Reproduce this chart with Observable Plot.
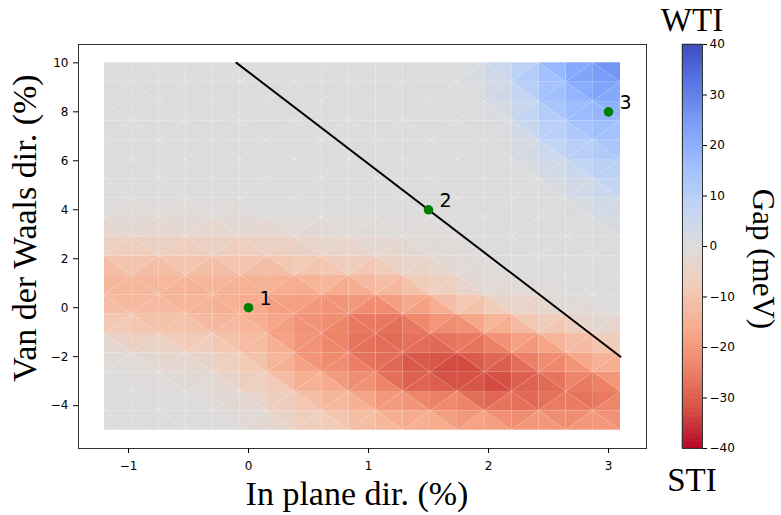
<!DOCTYPE html>
<html><head><meta charset="utf-8">
<script src="https://cdn.jsdelivr.net/npm/d3@7"></script>
<script src="https://cdn.jsdelivr.net/npm/@observablehq/plot@0.6"></script>
<style>
body{margin:0;background:#fff;}
#wrap{position:relative;width:781px;height:515px;overflow:hidden;background:#fff;}
#wrap svg{position:absolute;top:0;}
</style></head><body><div id="wrap"></div>
<script>
// Grid nodes (in-plane strain %, van der Waals strain %)
const xNodes = [-1.2, -0.974, -0.747, -0.521, -0.295, -0.068, 0.158, 0.384, 0.611, 0.837, 1.063, 1.289, 1.516, 1.742, 1.968, 2.195, 2.421, 2.647, 2.874, 3.1];
const yNodes = [-5, -4.211, -3.421, -2.632, -1.842, -1.053, -0.263, 0.526, 1.316, 2.105, 2.895, 3.684, 4.474, 5.263, 6.053, 6.842, 7.632, 8.421, 9.211, 10];
// Gap (meV) at nodes, rows from top (y=10) to bottom (y=-5)
const gapRows = [
 [0,0,0,0,0,0,0,0,0,0,0,0,0,1,3,7,14,20,25,28],
 [0,0,0,0,0,0,0,0,0,0,0,0,0,0,2,6,13,19,23,25],
 [0,0,0,0,0,0,0,0,0,0,0,0,0,0,1,4,11,16,20,20],
 [0,0,0,0,0,0,0,0,0,0,0,0,0,0,0,2,9,13,17,17],
 [0,0,0,0,0,0,0,0,0,0,0,0,0,0,0,1,6,10,13,14],
 [0,0,0,0,0,0,0,0,0,0,0,0,0,0,0,0,3,6,10,12],
 [0,0,0,0,0,0,0,0,0,0,0,0,0,0,0,0,1,3,6,9],
 [0,0,0,0,0,0,0,0,0,0,0,0,0,0,0,0,0,1,3,6],
 [-1,-1,-1,-1,-1,-1,0,0,0,0,0,0,0,0,0,0,0,0,1,3],
 [-4,-4,-4,-4,-4,-4,-4,-4,-2,-2,-1,-1,-1,0,0,0,0,0,0,1],
 [-8,-8,-8,-8,-8,-8,-8,-6,-5,-5,-5,-3,-2,-1,0,0,0,0,0,0],
 [-13,-13,-13,-13,-13,-13,-13,-13,-11,-11,-10,-7,-5,-2,-1,0,0,0,0,0],
 [-13,-13,-13,-15,-15,-15,-17,-17,-18,-19,-17,-15,-10,-6,-3,-2,-1,0,0,0],
 [-9,-12,-12,-12,-15,-15,-17,-21,-21,-24,-25,-25,-20,-17,-12,-8,-5,-3,-1,0],
 [-5,-8,-8,-10,-10,-12,-14,-21,-21,-26,-28,-28,-25,-25,-22,-17,-13,-10,-6,-4],
 [-1,-2,-4,-4,-6,-10,-12,-19,-23,-26,-27,-28,-30,-30,-27,-25,-22,-18,-13,-10],
 [0,0,-1,-2,-3,-6,-9,-16,-19,-22,-27,-30,-34,-34,-34,-31,-27,-24,-20,-17],
 [0,0,0,0,-1,-4,-5,-11,-13,-17,-20,-25,-28,-28,-32,-32,-29,-28,-28,-25],
 [0,0,0,0,0,-1,-3,-7,-9,-12,-15,-18,-18,-22,-22,-25,-24,-24,-24,-22],
 [0,0,0,0,0,0,-2,-4,-6,-8,-11,-13,-14,-16,-16,-18,-18,-18,-18,-18]
];
// Phase boundary line
const lineX = [-0.1, 3.1];
const lineY = [10, -2];
// Marked points
const ptX = [0, 1.5, 3];
const ptY = [0, 4, 8];
const ptLabel = ["1", "2", "3"];
// Ticks
const xTicks = [-1, 0, 1, 2, 3];
const yTicks = [-4, -2, 0, 2, 4, 6, 8, 10];
const cbTicks = [-40, -30, -20, -10, 0, 10, 20, 30, 40];
// coolwarm (reversed: positive = blue)
const cDomain = [-40, -32, -24, -16, -8, 0, 8, 16, 24, 32, 40];
const cRange = ["#b40426", "#d65244", "#ee8468", "#f7ac8e", "#f2cbb7", "#dddcdc", "#c0d4f5", "#9ebeff", "#7b9ff9", "#5977e3", "#3b4cc0"];

const color = {type: "linear", domain: cDomain, range: cRange, interpolate: "rgb", clamp: true};
const fmt = d => (d < 0 ? "\u2212" : "") + Math.abs(d);

// Build triangles (flat shading = mean of vertex values)
const grid = gapRows.slice().reverse();
const tris = [];
let id = 0;
for (let j = 0; j < yNodes.length - 1; j++) {
  for (let i = 0; i < xNodes.length - 1; i++) {
    const x0 = xNodes[i], x1 = xNodes[i + 1], y0 = yNodes[j], y1 = yNodes[j + 1];
    const v00 = grid[j][i], v10 = grid[j][i + 1], v01 = grid[j + 1][i], v11 = grid[j + 1][i + 1];
    if ((i + j) % 2 === 0) {
      let v = (v00 + v10 + v01) / 3; id++;
      tris.push({id, x: x0, y1: y0, y2: y1, v}, {id, x: x1, y1: y0, y2: y0, v});
      v = (v10 + v11 + v01) / 3; id++;
      tris.push({id, x: x0, y1: y1, y2: y1, v}, {id, x: x1, y1: y0, y2: y1, v});
    } else {
      let v = (v00 + v10 + v11) / 3; id++;
      tris.push({id, x: x0, y1: y0, y2: y0, v}, {id, x: x1, y1: y0, y2: y1, v});
      v = (v00 + v11 + v01) / 3; id++;
      tris.push({id, x: x0, y1: y0, y2: y1, v}, {id, x: x1, y1: y1, y2: y1, v});
    }
  }
}
const line = lineX.map((x, k) => ({x, y: lineY[k]}));
const pts = ptX.map((x, k) => ({x, y: ptY[k], t: ptLabel[k]}));

const wrap = document.getElementById("wrap");

const main = Plot.plot({
  width: 660, height: 515,
  marginLeft: 78, marginRight: 14, marginTop: 44, marginBottom: 67,
  style: {fontFamily: "DejaVu Sans", fontSize: "12px", background: "transparent"},
  x: {domain: [-1.4167, 3.3167]},
  y: {domain: [-5.75, 10.75]},
  color,
  marks: [
    Plot.areaY(tris, {x: "x", y1: "y1", y2: "y2", z: "id", fill: "v", stroke: "white", strokeOpacity: 0.1, strokeWidth: 0.6}),
    Plot.line(line, {x: "x", y: "y", stroke: "black", strokeWidth: 2}),
    Plot.dot(pts, {x: "x", y: "y", fill: "#008000", r: 4.8}),
    Plot.text(pts, {x: "x", y: "y", text: "t", dx: 11, dy: -9, textAnchor: "start", fontSize: 19, fill: "black"}),
    Plot.frame({stroke: "#333"}),
    Plot.axisX({ticks: xTicks, tickFormat: fmt, tickSize: 5, tickPadding: 8, fontSize: 12, label: null}),
    Plot.axisY({ticks: yTicks, tickFormat: fmt, tickSize: 5, tickPadding: 5, fontSize: 12, label: null})
  ]
});
main.style.left = "0px";
wrap.appendChild(main);

const cbStep = 0.5;
const cbVals = d3.range(-40, 40, cbStep);
const cb = Plot.plot({
  width: 119, height: 515,
  marginLeft: 20, marginRight: 79, marginTop: 44, marginBottom: 67,
  style: {fontFamily: "DejaVu Sans", fontSize: "12px", background: "transparent"},
  x: {domain: [0, 1], axis: null},
  y: {domain: [-40, 40]},
  color,
  marks: [
    Plot.rect(cbVals, {x1: 0, x2: 1, y1: d => d, y2: d => d + cbStep, fill: d => d + cbStep / 2, stroke: d => d + cbStep / 2, strokeWidth: 0.6}),
    Plot.frame({stroke: "#333"}),
    Plot.axisY({anchor: "right", ticks: cbTicks, tickFormat: fmt, tickSize: 4, tickPadding: 3, fontSize: 12, label: null})
  ]
});
cb.style.left = "662px";
wrap.appendChild(cb);

// Text overlay
const ov = d3.select(wrap).append("svg")
  .attr("width", 781).attr("height", 515)
  .style("left", "0px").style("pointer-events", "none")
  .attr("font-family", "Liberation Serif, serif").attr("fill", "black");
ov.append("text").attr("x", 357).attr("y", 505).attr("text-anchor", "middle").attr("font-size", 34).text("In plane dir. (%)");
ov.append("text").attr("transform", "translate(36,228) rotate(-90)").attr("text-anchor", "middle").attr("font-size", 34).text("Van der Waals dir. (%)");
ov.append("text").attr("transform", "translate(753,259) rotate(90)").attr("text-anchor", "middle").attr("font-size", 31).text("Gap (meV)");
ov.append("text").attr("x", 692).attr("y", 31).attr("text-anchor", "middle").attr("font-size", 33).text("WTI");
ov.append("text").attr("x", 692).attr("y", 491).attr("text-anchor", "middle").attr("font-size", 33).text("STI");
</script>
</body></html>
